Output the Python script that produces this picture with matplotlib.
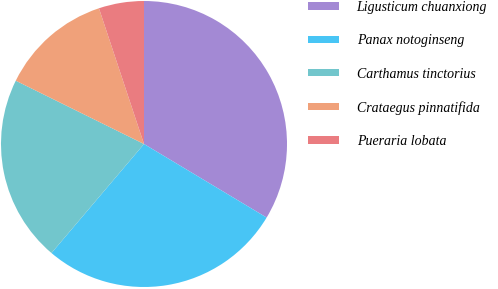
import matplotlib.pyplot as plt
from matplotlib.patches import Patch

# data (share of the whole, %)
labels = ['Ligusticum chuanxiong', 'Panax notoginseng', 'Carthamus tinctorius',
          'Crataegus pinnatifida', 'Pueraria lobata']
shares = [33.6, 27.6, 21.1, 12.6, 5.1]
colors = ['#a389d4', '#48c5f5', '#72c6cc', '#f0a17a', '#ea7c80']

W, H = 498, 289
fig = plt.figure(figsize=(W / 100, H / 100), dpi=100)

# pie: centre (144,144) px, radius 143 px
ax = fig.add_axes([1 / W, (H - 287) / H, 286 / W, 286 / H])
ax.pie(shares, colors=colors, startangle=90, counterclock=False,
       wedgeprops=dict(linewidth=0))
ax.set_xlim(-1, 1)
ax.set_ylim(-1, 1)
ax.set_aspect('equal')
ax.axis('off')

handles = [Patch(facecolor=c, edgecolor='none') for c in colors]
leg = fig.legend(handles, labels, loc='upper left',
                 bbox_to_anchor=(308 / W, 1 - 1 / H),
                 frameon=False, borderpad=0, borderaxespad=0,
                 handlelength=2.25, handleheight=0.45,
                 handletextpad=1.25, labelspacing=1.46,
                 prop=dict(family='Liberation Serif', style='italic', size=10))

fig.savefig('out.png', dpi=100)
